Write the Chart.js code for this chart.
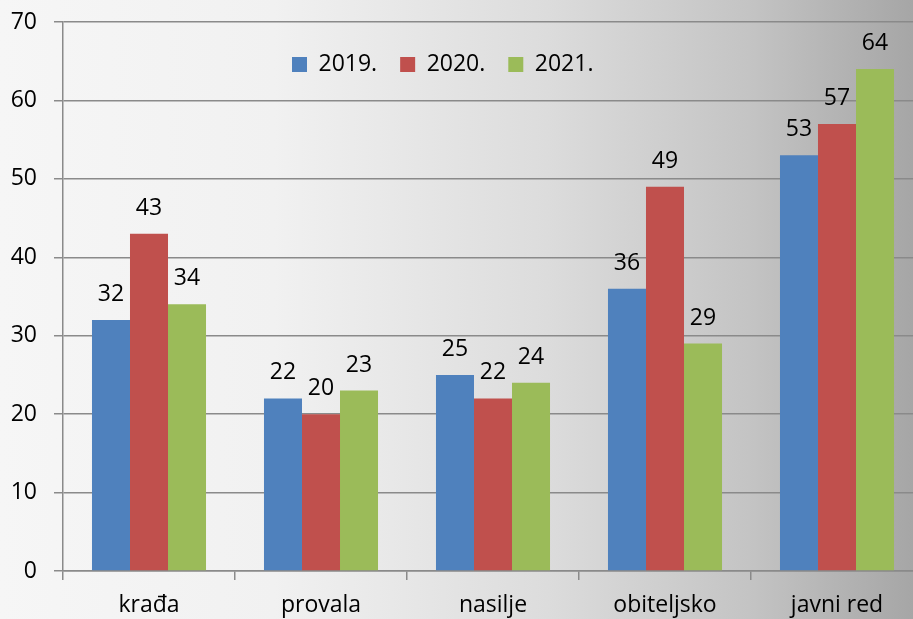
<!DOCTYPE html>
<html>
<head>
<meta charset="utf-8">
<script src="https://cdn.jsdelivr.net/npm/chart.js@4.4.1/dist/chart.umd.min.js"></script>
<style>
  html, body {
    margin: 0;
    padding: 0;
    overflow: hidden;
    width: 913px;
    height: 619px;
  }
  body {
    background: linear-gradient(to right, #f6f6f6 0%, #f1f1f1 30%, #dcdcdc 60%, #c4c4c4 82%, #a6a6a6 100%);
  }
  #wrap {
    position: relative;
    width: 930px;
    height: 619px;
  }
</style>
</head>
<body>
<div id="wrap"><canvas id="crimes"></canvas></div>
<script>
const categories = ["krađa", "provala", "nasilje", "obiteljsko", "javni red"];
const years = ["2019.", "2020.", "2021."];
const values2019 = [32, 22, 25, 36, 53];
const values2020 = [43, 20, 22, 49, 57];
const values2021 = [34, 23, 24, 29, 64];
const yTicks = [0, 10, 20, 30, 40, 50, 60, 70];

const colors = ["#4F81BD", "#C0504D", "#9BBB59"];
const font = { family: "'Open Sans', sans-serif", size: 23 };
const gridColor = "#8a8a8a";

// value labels above each bar
const barLabels = {
  id: "barLabels",
  afterDatasetsDraw(chart) {
    const ctx = chart.ctx;
    ctx.save();
    ctx.font = "23px 'Open Sans', sans-serif";
    ctx.fillStyle = "#000";
    ctx.textAlign = "center";
    ctx.textBaseline = "alphabetic";
    chart.data.datasets.forEach((ds, i) => {
      chart.getDatasetMeta(i).data.forEach((bar, j) => {
        ctx.fillText(ds.data[j], bar.x, bar.y - 19);
      });
    });
    ctx.restore();
  },
};

// legend takes no room and sits inside the plot, a bit left of centre
const floatLegend = {
  id: "floatLegend",
  afterInit(chart) {
    const lg = chart.legend;
    const fit = lg.fit;
    lg.fit = function () {
      fit.call(this);
      this.height = 0;
    };
  },
  afterLayout(chart) {
    const lg = chart.legend;
    lg.left = 269;
    lg.right = 925;
    lg.top = 30;
    lg.bottom = 120;
  },
};

new Chart(document.getElementById("crimes"), {
  type: "bar",
  data: {
    labels: categories,
    datasets: [
      { label: years[0], data: values2019, backgroundColor: colors[0] },
      { label: years[1], data: values2020, backgroundColor: colors[1] },
      { label: years[2], data: values2021, backgroundColor: colors[2] },
    ],
  },
  options: {
    responsive: true,
    maintainAspectRatio: false,
    animation: false,
    layout: { padding: { left: 0, right: 7, top: 22, bottom: 0 } },
    datasets: {
      bar: { barPercentage: 1, categoryPercentage: 0.663, borderWidth: 0 },
    },
    plugins: {
      legend: {
        position: "top",
        align: "start",
        labels: {
          boxWidth: 15,
          boxHeight: 15,
          padding: 23,
          color: "#000",
          font: font,
        },
      },
      tooltip: { enabled: false },
    },
    scales: {
      x: {
        grid: {
          display: true,
          drawOnChartArea: false,
          drawTicks: true,
          tickLength: 9,
          color: gridColor,
          lineWidth: 1.5,
        },
        border: { display: true, color: gridColor, width: 1.5 },
        ticks: { color: "#000", font: font, padding: 12 },
        afterFit(scale) {
          scale.height = 48;
          scale.paddingLeft = 0;
          scale.paddingRight = 0;
        },
      },
      y: {
        min: 0,
        max: 70,
        afterBuildTicks(scale) {
          scale.ticks = yTicks.map(v => ({ value: v }));
        },
        grid: {
          color: gridColor,
          lineWidth: 1.5,
          tickLength: 9,
        },
        border: { display: true, color: gridColor, width: 1.5 },
        ticks: { color: "#000", font: font, padding: 17 },
        afterFit(scale) {
          scale.width = 63;
          scale.paddingTop = 0;
          scale.paddingBottom = 0;
        },
      },
    },
  },
  plugins: [barLabels, floatLegend],
});
</script>
</body>
</html>
